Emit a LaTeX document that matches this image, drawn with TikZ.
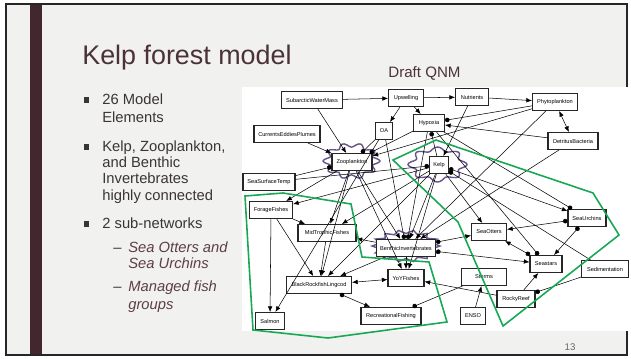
\documentclass[tikz,border=0pt]{standalone}
\usepackage{fontspec}
\setmainfont{Liberation Sans}
\usetikzlibrary{arrows.meta, positioning}

\definecolor{slidebg}{RGB}{241,241,240}
\definecolor{barcol}{RGB}{66,40,46}
\definecolor{titlecol}{RGB}{74,50,56}
\definecolor{bodycol}{RGB}{58,52,54}
\definecolor{subcol}{RGB}{92,62,70}
\definecolor{hubcol}{RGB}{104,84,140}
\definecolor{groupcol}{RGB}{22,168,82}

\tikzset{
    blob/.tip={Circle[length=2.6pt]},
    >={Latex[length=3.2pt,width=2.6pt]},
    box/.style={draw=black!85, line width=0.6pt, fill=white, inner sep=0pt,
        minimum height=0.34cm, font=\fontsize{3.2}{4}\selectfont},
    posedge/.style={->, line width=0.3pt},
    negedge/.style={-blob, line width=0.3pt},
    dualedge/.style={<->, line width=0.3pt},
    mixedge/.style={blob->, line width=0.3pt},
    hubline/.style={draw=hubcol, line width=0.8pt},
    subnet/.style={draw=groupcol, line width=0.9pt},
    bullettext/.style={anchor=base west, text=bodycol, font=\fontsize{8.4}{10}\selectfont, inner sep=0pt},
    subtext/.style={bullettext, text=subcol, font=\fontsize{8.4}{10}\selectfont\itshape},
    bulletbox/.style={fill=bodycol, minimum size=0.11cm, inner sep=0pt}
}

\begin{document}
\begin{tikzpicture}[x=0.02cm, y=-0.02cm]
    \useasboundingbox (0,0) rectangle (631,358);
    \fill[white] (0,0) rectangle (631,358);
    \fill[slidebg] (6,4) rectangle (627,355);
    \fill[barcol] (30,4) rectangle (42,355);
    \draw[black!85, line width=1pt] (6,4) rectangle (627,355);

    % slide text
    \node[anchor=base west, inner sep=0pt, text=titlecol, font=\fontsize{15.3}{18}\selectfont] (title) at (82,65) {Kelp forest model};
    \node[anchor=base west, inner sep=0pt, text=titlecol, font=\fontsize{8.6}{10}\selectfont] (draft) at (388,77) {Draft QNM};

    \node[bulletbox] (b1) at (86.5,100) {};
    \node[bullettext] (l1) at (102,104) {26 Model};
    \node[bullettext] (l2) at (102,122) {Elements};
    \node[bulletbox] (b2) at (86.5,147) {};
    \node[bullettext] (l3) at (102,151) {Kelp, Zooplankton,};
    \node[bullettext] (l4) at (102,167) {and Benthic};
    \node[bullettext] (l5) at (102,183) {Invertebrates};
    \node[bullettext] (l6) at (102,200) {highly connected};
    \node[bulletbox] (b3) at (86.5,224) {};
    \node[bullettext] (l7) at (102,228) {2 sub-networks};
    \node[bullettext] (d1) at (113,252) {--};
    \node[subtext] (l8) at (128,252) {Sea Otters and};
    \node[subtext] (l9) at (128,268) {Sea Urchins};
    \node[bullettext] (d2) at (113,291) {--};
    \node[subtext] (l10) at (128,291) {Managed fish};
    \node[subtext] (l11) at (128,309) {groups};

    \node[text=black!60, font=\fontsize{5.5}{6}\selectfont] (page) at (570,347) {13};

    % network
    \fill[white] (242,87) rectangle (629,331);

    \draw[hubline] plot[smooth cycle, samples=72, domain=0:355, variable=\t]
        ({351.5+25.2*(1+0.13*cos(10*\t))*cos(\t)}, {161+15.9*(1+0.13*cos(10*\t))*sin(\t)});
    \draw[hubline] plot[smooth cycle, samples=72, domain=0:355, variable=\t]
        ({437.5+26.1*(1+0.13*cos(8*\t))*cos(\t)}, {164.5+15.5*(1+0.13*cos(8*\t))*sin(\t)});
    \draw[hubline] plot[samples=28, domain=0:347.143, variable=\t]
        ({406+34*(0.89+0.11*cos(14*\t))*cos(\t)}, {246+16*(0.89+0.11*cos(14*\t))*sin(\t)}) -- cycle;

    \node[box, minimum width=1.22cm] (sub) at (312,100) {SubarcticWaterMass};
    \node[box, minimum width=0.70cm] (upw) at (406,98) {Upwelling};
    \node[box, minimum width=0.66cm] (nut) at (472,97) {Nutrients};
    \node[box, minimum width=0.90cm] (phy) at (555,102) {Phytoplankton};
    \node[box, minimum width=0.34cm] (oa) at (384,131) {OA};
    \node[box, minimum width=0.62cm] (hyp) at (429,123) {Hypoxia};
    \node[box, minimum width=1.32cm] (cur) at (287,134) {CurrentsEddiesPlumes};
    \node[box, minimum width=1.00cm] (det) at (573,141) {DetritusBacteria};
    \node[box, minimum width=0.80cm] (zoo) at (352,162) {Zooplankton};
    \node[box, minimum width=0.38cm] (kelp) at (439,165) {Kelp};
    \node[box, minimum width=1.04cm] (sst) at (269,182) {SeaSurfaceTemp};
    \node[box, minimum width=0.86cm] (ff) at (271,210) {ForageFishes};
    \node[box, minimum width=1.16cm] (mtf) at (327,233) {MidTrophicFishes};
    \node[box, minimum width=1.18cm] (ben) at (406,248) {BenthicInvertebrates};
    \node[box, minimum width=0.70cm] (otter) at (489,232) {SeaOtters};
    \node[box, minimum width=0.76cm] (urch) at (587,218) {SeaUrchins};
    \node[box, minimum width=0.64cm] (star) at (546,264) {Seastars};
    \node[box, minimum width=0.94cm] (sed) at (605,269) {Sedimentation};
    \node[box, minimum width=0.72cm] (yoy) at (406,278) {YoYFishes};
    \node[box, minimum width=1.30cm] (brl) at (319,285) {BlackRockfishLingcod};
    \node[box, minimum width=0.90cm] (storm) at (484,277) {Storms};
    \node[box, minimum width=0.76cm] (reef) at (516,299) {RockyReef};
    \node[box, minimum width=1.20cm] (rec) at (391,316) {RecreationalFishing};
    \node[box, minimum width=0.58cm] (salmon) at (270,321) {Salmon};
    \node[box, minimum width=0.50cm] (enso) at (473,316) {ENSO};

    \draw[posedge] (sub) -- (upw);
    \draw[posedge] (upw) -- (nut);
    \draw[posedge] (nut) -- (phy);
    \draw[posedge] (sub) -- (zoo);
    \draw[posedge] (cur) -- (zoo);
    \draw[posedge] (upw) -- (oa);
    \draw[posedge] (upw) -- (hyp);
    \draw[posedge] (nut) -- (kelp);
    \draw[dualedge] (phy) -- (det);
    \draw[negedge] (phy) -- (hyp);
    \draw[posedge] (det) -- (hyp);
    \draw[posedge] (phy) -- (zoo);
    \draw[posedge] (phy) -- (ben);
    \draw[posedge] (det) -- (ben);
    \draw[negedge] (oa) -- (zoo);
    \draw[negedge] (oa) -- (ben);
    \draw[posedge] (oa) -- (salmon);
    \draw[negedge] (hyp) -- (zoo);
    \draw[negedge] (kelp) -- (hyp);
    \draw[negedge] (hyp) -- (ben);
    \draw[negedge] (hyp) -- (urch);
    \draw[negedge] (hyp) -- (star);
    \draw[negedge] (sst) -- (zoo);
    \draw[negedge] (sst) -- (kelp);

    \draw[posedge] (zoo) -- (ff);
    \draw[posedge] (zoo) -- (mtf);
    \draw[posedge] (zoo) -- (brl);
    \draw[posedge] (zoo) -- (ben);
    \draw[posedge] (zoo) -- (yoy);
    \draw[posedge] (kelp) -- (ff);
    \draw[posedge] (kelp) -- (mtf);
    \draw[posedge] (kelp) -- (brl);
    \draw[posedge] (kelp) -- (ben);
    \draw[posedge] (kelp) -- (yoy);
    \draw[posedge] (kelp) -- (otter);
    \draw[mixedge] (kelp) -- (urch);
    \draw[negedge] (sed) -- (kelp);

    \draw[posedge] (ff) -- (mtf);
    \draw[posedge] (ff) -- (brl);
    \draw[posedge] (ff) -- (salmon);
    \draw[posedge] (mtf) -- (brl);
    \draw[posedge] (ben) -- (mtf);
    \draw[posedge] (ben) -- (brl);
    \draw[posedge] (ben) -- (yoy);
    \draw[dualedge] (brl) -- (yoy);
    \draw[mixedge] (brl) -- (rec);
    \draw[negedge] (storm) -- (rec);
    \draw[posedge] (reef) -- (yoy);
    \draw[posedge] (enso) -- (storm);
    \draw[posedge] (reef) -- (star);
    \draw[negedge] (sed) -- (reef);

    \draw[mixedge] (ben) -- (otter);
    \draw[mixedge] (ben) -- (star);
    \draw[mixedge] (urch) -- (otter);
    \draw[mixedge] (star) -- (otter);
    \draw[mixedge] (urch) -- (star);

    % sub-networks
    \draw[subnet] (245,196) -- (283,193) -- (351,204) -- (362,257) -- (429,262)
        -- (447,322) -- (328,338) -- (253,330) -- cycle;
    \draw[subnet] (393,160) -- (436,140) -- (593,193) -- (619,235) -- (503,326)
        -- (458,222) -- cycle;
\end{tikzpicture}
\end{document}
